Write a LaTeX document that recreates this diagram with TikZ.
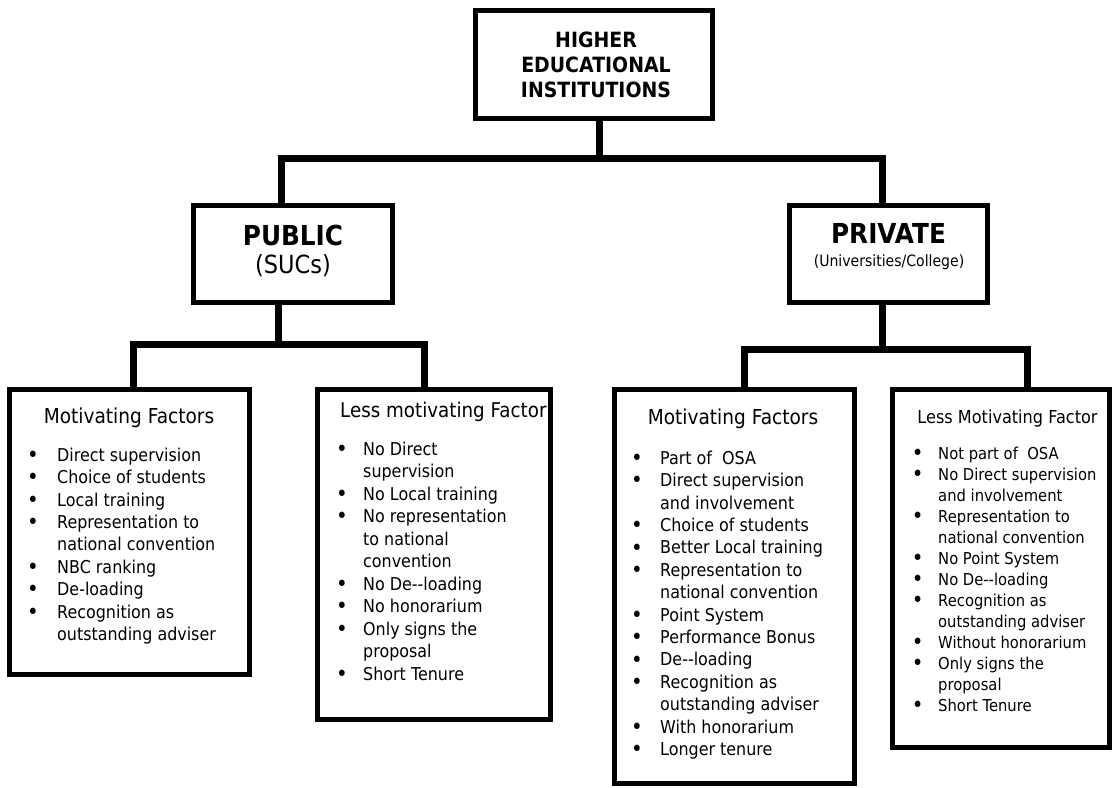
\documentclass[tikz,border=0pt]{standalone}
\usepackage{fontspec}
\setmainfont{DejaVu Sans}[FakeStretch=0.9]
\newcommand\bul{\raisebox{-1.2pt}{\fontsize{22}{0}\selectfont\textbullet}}
\newcommand\bA{\llap{\bul\hspace{18.4pt}}}
\newcommand\bB{\llap{\bul\hspace{15.4pt}}}
\newcommand\bC{\llap{\bul\hspace{17.4pt}}}
\newcommand\bD{\llap{\bul\hspace{14.6pt}}}
\begin{document}
\begin{tikzpicture}[x=1pt,y=-1pt,
  box/.style={draw, line width=5pt, rectangle, inner sep=0pt, outer sep=0pt},
  conn/.style={line width=7pt, line join=miter},
  head/.style={font=\bfseries\fontsize{27.5}{32}\selectfont, inner sep=0pt, anchor=base},
  sub/.style={inner sep=0pt, anchor=base},
  ttl/.style={font=\fontsize{20.6}{24}\selectfont, inner sep=0pt, anchor=base},
  itemsA/.style={font=\fontsize{17.7}{22.4}\selectfont, align=left, inner sep=0pt, anchor=north west},
  itemsB/.style={font=\fontsize{16.4}{21}\selectfont, align=left, inner sep=0pt, anchor=north west}]
\useasboundingbox (0,0) rectangle (1113,787);
% boxes
\node[box, minimum width=237pt, minimum height=108pt] (top) at (594,64.5) {};
\node[box, minimum width=199pt, minimum height=97pt] (pub) at (293,254) {};
\node[box, minimum width=198pt, minimum height=97pt] (priv) at (888.5,254) {};
\node[box, minimum width=240pt, minimum height=285pt] (L1) at (129.5,532) {};
\node[box, minimum width=233pt, minimum height=330pt] (L2) at (434,554.5) {};
\node[box, minimum width=240pt, minimum height=394pt] (R1) at (734.5,586.5) {};
\node[box, minimum width=217pt, minimum height=358pt] (R2) at (1001,568.5) {};
% connector coordinates
\coordinate (t0) at (599,158);
\coordinate (hL) at (281,158);
\coordinate (hR) at (882.5,158);
\coordinate (p0) at (278,344);
\coordinate (pL) at (133,344);
\coordinate (pR) at (424.5,344);
\coordinate (q0) at (882,349);
\coordinate (qL) at (744,349);
\coordinate (qR) at (1027,349);
% connectors
\draw[conn] (top.south -| t0) -- (t0);
\draw[conn] (hL |- pub.north) -- (hL) -- (hR) -- (hR |- priv.north);
\draw[conn] (pub.south -| p0) -- (p0);
\draw[conn] (pL |- L1.north) -- (pL) -- (pR) -- (pR |- L2.north);
\draw[conn] (priv.south -| q0) -- (q0);
\draw[conn] (qL |- R1.north) -- (qL) -- (qR) -- (qR |- R2.north);
% texts
\node[font=\bfseries\fontsize{21}{25}\selectfont, align=center, inner sep=0pt, anchor=north] (topT) at (596,29.5)
  {\strut HIGHER\\EDUCATIONAL\\INSTITUTIONS};
\node[head] (pubT) at (293,245) {PUBLIC};
\node[sub, font=\fontsize{25}{30}\selectfont] (pubS) at (293,273) {(SUCs)};
\node[head] (privT) at (888.5,243.3) {PRIVATE};
\node[sub, font=\fontsize{15.6}{18}\selectfont] (privS) at (889,266) {(Universities/College)};
\node[ttl] (L1T) at (129,423) {Motivating Factors};
\node[ttl, font=\fontsize{20.3}{24}\selectfont, anchor=base west] (L2T) at (340,417) {Less motivating Factor};
\node[ttl] (R1T) at (733,424) {Motivating Factors};
\node[ttl, font=\fontsize{17.9}{21}\selectfont] (R2T) at (1007.5,423) {Less Motivating Factor};
\node[itemsA] (L1I) at (57,445.32) {\strut\bA Direct supervision\\
\bA Choice of students\\
\bA Local training\\
\bA Representation to\\
national convention\\
\bA NBC ranking\\
\bA De-loading\\
\bA Recognition as\\
outstanding adviser};
\node[itemsA, font=\fontsize{17.7}{22.5}\selectfont] (L2I) at (363,439.25) {\strut\bB No Direct\\
supervision\\
\bB No Local training\\
\bB No representation\\
to national\\
convention\\
\bB No De-{}-loading\\
\bB No honorarium\\
\bB Only signs the\\
proposal\\
\bB Short Tenure};
\node[itemsA] (R1I) at (660,448.32) {\strut\bC Part of~~OSA\\
\bC Direct supervision\\
and involvement\\
\bC Choice of students\\
\bC Better Local training\\
\bC Representation to\\
national convention\\
\bC Point System\\
\bC Performance Bonus\\
\bC De-{}-loading\\
\bC Recognition as\\
outstanding adviser\\
\bC With honorarium\\
\bC Longer tenure};
\node[itemsB] (R2I) at (938,444.3) {\strut\bD Not part of~~OSA\\
\bD No Direct supervision\\
and involvement\\
\bD Representation to\\
national convention\\
\bD No Point System\\
\bD No De-{}-loading\\
\bD Recognition as\\
outstanding adviser\\
\bD Without honorarium\\
\bD Only signs the\\
proposal\\
\bD Short Tenure};
\end{tikzpicture}
\end{document}
